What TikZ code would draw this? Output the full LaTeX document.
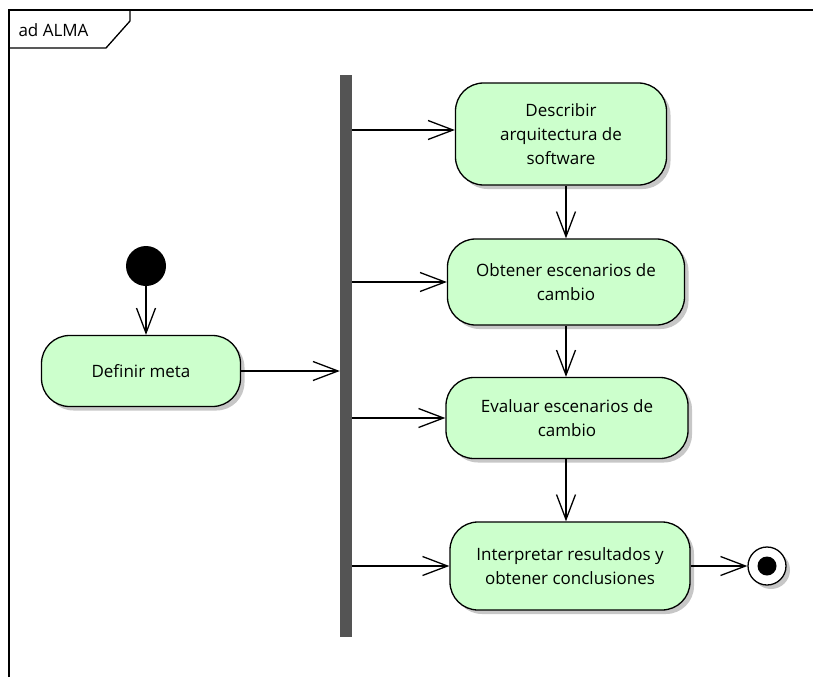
\documentclass[tikz,border=0pt]{standalone}
\usepackage{fontspec}
\setmainfont{Open Sans}
\usetikzlibrary{arrows.meta,shadows}
\begin{document}
\begin{tikzpicture}[x=1pt, y=-1pt,
    every node/.style={font=\fontsize{17}{24}\selectfont},
    action/.style={draw, line width=1.3pt, fill=green!20, rounded corners=28pt,
      align=center, inner sep=0pt,
      drop shadow={shadow xshift=4pt, shadow yshift=-4pt, fill=black!22, opacity=1}},
    fork/.style={fill=black!67, inner sep=0pt, minimum width=12pt},
    flow/.style={line width=1.3pt, -{Straight Barb[length=25pt, width=19pt, line width=1.3pt]}}]
  \useasboundingbox (0,0) rectangle (813,677);
  %
  \draw[line width=1.3pt] (9,677) -- (9,10) -- (813,10);
  \draw[line width=1.3pt] (9,48) -- (106,48) -- (130,21) -- (130,10);
  \node[anchor=west] (frame) at (15,30) {ad ALMA};
  %
  \node[circle, fill=black, minimum size=40pt, inner sep=0pt] (start) at (146,266) {};
  \node[action, minimum width=199pt, minimum height=71pt] (def) at (141,371) {Definir meta};
  \node[fork, minimum height=562pt] (bar) at (346,356) {};
  %
  \node[action, minimum width=211pt, minimum height=102pt] (desc) at (561,134)
    {Describir\\arquitectura de\\software};
  \node[action, minimum width=237pt, minimum height=86pt] (obt) at (566,282)
    {Obtener escenarios de\\cambio};
  \node[action, minimum width=242pt, minimum height=81pt] (eva) at (567,418)
    {Evaluar escenarios de\\cambio};
  \node[action, minimum width=240pt, minimum height=88pt] (int) at (570,566)
    {Interpretar resultados y\\obtener conclusiones};
  %
  \node[circle, draw, line width=1.3pt, fill=white, minimum size=38pt, inner sep=0pt,
    drop shadow={shadow xshift=4pt, shadow yshift=-4pt, fill=black!22, opacity=1}] (end) at (767,566) {};
  \node[circle, fill=black, minimum size=19pt, inner sep=0pt] (endin) at (end) {};
  %
  \draw[flow] (start) -- (start |- def.north);
  \draw[flow] (def) -- (def -| bar.west);
  \draw[flow] (bar.east |- 0,130) -- (desc.west |- 0,130);
  \draw[flow] (bar.east |- obt) -- (obt);
  \draw[flow] (bar.east |- eva) -- (eva);
  \draw[flow] (bar.east |- int) -- (int);
  \draw[flow] (obt.north |- desc.south) -- (obt.north);
  \draw[flow] (obt.south) -- (obt.south |- eva.north);
  \draw[flow] (obt.south |- eva.south) -- (obt.south |- int.north);
  \draw[flow] (int) -- (end);
\end{tikzpicture}
\end{document}
